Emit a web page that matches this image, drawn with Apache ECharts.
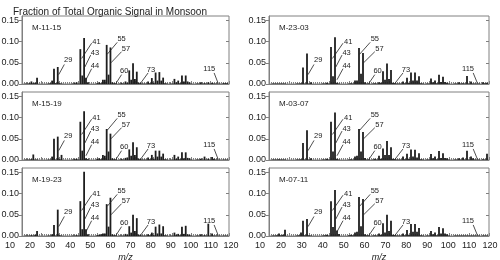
<!DOCTYPE html>
<html><head><meta charset="utf-8">
<script src="https://cdn.jsdelivr.net/npm/echarts@6.0.0/dist/echarts.min.js"></script>
<style>html,body{margin:0;padding:0;background:#fff}#c{width:500px;height:260px}</style>
</head><body><div id="c"></div>
<script>
// m/z positions of the sticks
const mz = [12,13,14,15,16,17,18, 24,25,26,27,28,29,30,31, 37,38,39,40,41,42,43,44,45,
  50,51,52,53,54,55,56,57,58,59,60, 62,63,64,65,66,67,68,69,70,71,72,73,
  74,75,76,77,78,79,80,81,82,83,84,85,86,87, 89,90,91,92,93,94,95,96,97,98,99,100,
  103,104,105,106,107,108,109,110,111,112,113,114,115, 117,118,119];

const m_11_15 = [0.001,0.001,0.002,0.006,0.002,0.003,0.015,
  0.001,0.002,0.008,0.036,0.002,0.040,0.002,0.001,
  0.001,0.002,0.004,0.001,0.082,0.020,0.108,0.015,0.004,
  0.002,0.004,0.002,0.010,0.010,0.092,0.022,0.086,0.004,0.002,0.002,
  0.001,0.002,0.001,0.006,0.003,0.032,0.010,0.049,0.012,0.029,0.003,0.002,
  0.001,0.001,0.001,0.006,0.002,0.014,0.003,0.027,0.008,0.028,0.008,0.015,0.002,0.001,
  0.001,0.001,0.012,0.004,0.008,0.002,0.020,0.006,0.020,0.006,0.004,0.001,
  0.001,0.001,0.004,0.001,0.002,0.001,0.004,0.001,0.003,0.001,0.001,0.001,0.001,
  0.002,0.002,0.002];
const m_15_19 = [0.001,0.001,0.001,0.002,0.013,0.001,0.001,
  0.001,0.001,0.008,0.050,0.001,0.055,0.002,0.012,
  0.001,0.002,0.003,0.001,0.090,0.022,0.115,0.004,0.002,
  0.003,0.004,0.002,0.012,0.010,0.073,0.020,0.062,0.004,0.002,0.002,
  0.001,0.002,0.001,0.005,0.006,0.025,0.010,0.042,0.012,0.030,0.003,0.002,
  0.001,0.001,0.001,0.006,0.002,0.012,0.003,0.022,0.008,0.022,0.008,0.015,0.002,0.001,
  0.001,0.001,0.012,0.003,0.008,0.002,0.018,0.004,0.018,0.005,0.004,0.001,
  0.001,0.001,0.003,0.001,0.008,0.001,0.003,0.001,0.007,0.003,0.001,0.001,0.001,
  0.001,0.001,0.001];
const m_19_23 = [0.001,0.001,0.001,0.002,0.001,0.003,0.012,
  0.001,0.001,0.004,0.026,0.001,0.062,0.002,0.001,
  0.001,0.001,0.002,0.001,0.082,0.016,0.151,0.016,0.004,
  0.002,0.003,0.004,0.006,0.006,0.075,0.022,0.090,0.004,0.002,0.002,
  0.001,0.001,0.001,0.005,0.003,0.023,0.008,0.050,0.012,0.042,0.003,0.002,
  0.001,0.001,0.001,0.004,0.002,0.008,0.002,0.022,0.006,0.027,0.006,0.023,0.002,0.001,
  0.001,0.001,0.008,0.003,0.005,0.002,0.022,0.005,0.024,0.004,0.003,0.001,
  0.001,0.001,0.004,0.001,0.002,0.001,0.029,0.001,0.006,0.001,0.001,0.001,0.001,
  0.001,0.001,0.001];
const m_23_03 = [0.001,0.001,0.001,0.001,0.001,0.001,0.001,
  0.001,0.001,0.002,0.039,0.001,0.072,0.001,0.004,
  0.001,0.001,0.003,0.001,0.087,0.018,0.110,0.003,0.001,
  0.001,0.002,0.001,0.008,0.008,0.085,0.024,0.073,0.004,0.001,0.002,
  0.001,0.002,0.001,0.004,0.003,0.030,0.010,0.048,0.012,0.033,0.003,0.002,
  0.001,0.001,0.001,0.006,0.002,0.015,0.003,0.027,0.008,0.027,0.008,0.018,0.002,0.001,
  0.001,0.001,0.013,0.004,0.008,0.002,0.022,0.005,0.017,0.005,0.003,0.001,
  0.001,0.001,0.004,0.001,0.002,0.001,0.019,0.001,0.006,0.001,0.001,0.001,0.001,
  0.004,0.002,0.003];
const m_03_07 = [0.001,0.001,0.001,0.002,0.001,0.001,0.001,
  0.001,0.001,0.002,0.040,0.001,0.070,0.001,0.004,
  0.001,0.001,0.003,0.001,0.090,0.020,0.112,0.003,0.001,
  0.001,0.002,0.001,0.008,0.010,0.073,0.020,0.066,0.005,0.001,0.002,
  0.001,0.003,0.001,0.010,0.003,0.027,0.012,0.045,0.012,0.030,0.003,0.002,
  0.001,0.001,0.001,0.008,0.002,0.015,0.003,0.025,0.008,0.024,0.006,0.016,0.002,0.001,
  0.001,0.001,0.014,0.004,0.008,0.002,0.021,0.005,0.016,0.005,0.004,0.001,
  0.001,0.001,0.004,0.001,0.006,0.001,0.022,0.001,0.008,0.004,0.001,0.001,0.001,
  0.002,0.001,0.015];
const m_07_11 = [0.001,0.001,0.002,0.006,0.002,0.003,0.015,
  0.001,0.002,0.008,0.036,0.002,0.040,0.002,0.001,
  0.001,0.002,0.003,0.001,0.082,0.021,0.108,0.013,0.005,
  0.002,0.003,0.002,0.008,0.010,0.092,0.023,0.087,0.004,0.002,0.002,
  0.001,0.002,0.001,0.006,0.003,0.030,0.008,0.050,0.012,0.036,0.003,0.002,
  0.001,0.001,0.001,0.006,0.002,0.014,0.003,0.028,0.010,0.028,0.010,0.019,0.002,0.001,
  0.001,0.001,0.012,0.004,0.008,0.002,0.021,0.006,0.018,0.006,0.004,0.001,
  0.001,0.001,0.001,0.001,0.001,0.001,0.001,0.001,0.001,0.001,0.001,0.001,0.001,
  0.001,0.001,0.001];

const panelNames = ['M-11-15','M-15-19','M-19-23','M-23-03','M-03-07','M-07-11'];
const panelValues = [m_11_15, m_15_19, m_19_23, m_23_03, m_03_07, m_07_11];
const yTicks = [0, 0.05, 0.10, 0.15];
const peakLabels = ['29','41','43','44','55','57','60','73','115'];
const titleText = 'Fraction of Total Organic Signal in Monsoon';

// ---- layout / styling (not data) ----
const FONT = 'Liberation Sans, Arial, Helvetica, sans-serif';
const cols = [{left:22, width:207, labLeft:10, labWidth:221},
              {left:269, width:220, labLeft:260, labWidth:230}];
const rowBottoms = [84, 160, 236];
const H = 68, YMAX = 0.16;
const BARW = 1.8;
// leader geometry per peak label: [x1,y1,x2,y2,textX,textY] in axis units
const annGeom = [[29.5,0.022,32.5,0.046,34.6,0.056],[41.7,0.060,47,0.096,49.6,0.100],
  [43.4,0.040,46.5,0.068,48.8,0.074],[44,0.010,47,0.036,48.8,0.042],
  [55.3,0.070,60.6,0.098,62.9,0.106],[57.3,0.050,62.9,0.076,65.2,0.082],
  [60,0.002,62.9,0.022,64.3,0.030],[72.7,0.0,77,0.026,78.5,0.034],
  [114.2,0.002,112.1,0.026,109.5,0.036]];
const AX = '#808080', TXT = '#222';

const grid = [], xAxis = [], yAxis = [], series = [];
const title = [{text:titleText, left:8, top:2, textStyle:{fontSize:10, fontWeight:'normal', color:TXT, fontFamily:FONT}}];

panelNames.forEach((name, i) => {
  const ci = Math.floor(i/3), r = i % 3, c = cols[ci];
  const top = rowBottoms[r] - H;
  grid.push({left:c.left, top:top, width:c.width, height:H, show:true, borderColor:AX, borderWidth:1,
    backgroundColor:'transparent', containLabel:false, outerBoundsMode:'none'});
  xAxis.push({type:'value', gridIndex:i, min:10, max:120, interval:10,
    axisLine:{show:true, lineStyle:{color:AX}},
    axisTick:{show:true, inside:true, length:3, lineStyle:{color:AX}},
    minorTick:{show:true, splitNumber:10, length:2, lineStyle:{color:AX}},
    axisLabel:{show:false}, splitLine:{show:false},
    name: r === 2 ? 'm/z' : '', nameLocation:'middle', nameGap:17,
    nameTextStyle:{fontStyle:'italic', fontSize:9, color:TXT, fontFamily:FONT}});
  yAxis.push({type:'value', gridIndex:i, min:0, max:YMAX, position:'left',
    axisLine:{show:true, lineStyle:{color:AX}},
    axisTick:{show:true, length:3, customValues:yTicks, lineStyle:{color:AX}},
    axisLabel:{fontSize:9, margin:3, color:TXT, fontFamily:FONT, customValues:yTicks, formatter:v => v.toFixed(2)},
    splitLine:{show:false}});
  yAxis.push({type:'value', gridIndex:i, min:0, max:YMAX, position:'right',
    axisLine:{show:false},
    axisTick:{show:true, inside:true, length:3, customValues:yTicks, lineStyle:{color:AX}},
    axisLabel:{show:false}, splitLine:{show:false}});
  // sticks
  series.push({type:'custom', xAxisIndex:i, yAxisIndex:2*i, silent:true, animation:false,
    data: mz.map((m,k) => [m, panelValues[i][k]]),
    renderItem:(params, api) => {
      const p0 = api.coord([api.value(0), 0]);
      const p1 = api.coord([api.value(0), api.value(1)]);
      return {type:'rect', shape:{x:p0[0]-BARW/2, y:p1[1], width:BARW, height:p0[1]-p1[1]},
        style:{fill:'#1e1e1e'}};
    }});
  // peak labels with leader lines
  series.push({type:'custom', xAxisIndex:i, yAxisIndex:2*i, silent:true, animation:false, clip:false,
    data: annGeom.map((g,k) => g.concat([k])),
    renderItem:(params, api) => {
      const p1 = api.coord([api.value(0), api.value(1)]);
      const p2 = api.coord([api.value(2), api.value(3)]);
      const pt = api.coord([api.value(4), api.value(5)]);
      return {type:'group', children:[
        {type:'line', shape:{x1:p1[0], y1:p1[1], x2:p2[0], y2:p2[1]}, style:{stroke:'#222', lineWidth:0.8}},
        {type:'text', x:pt[0], y:pt[1], style:{text:peakLabels[api.value(6)], fontSize:7.5, fill:TXT, align:'center', verticalAlign:'middle', fontFamily:FONT}}
      ]};
    }});
  title.push({text:name, left:c.left+5, top:top+3, textStyle:{fontSize:8, fontWeight:'normal', color:TXT, fontFamily:FONT}});
});

// tick-label axes under the bottom row
cols.forEach((c, ci) => {
  const gi = 6 + ci;
  grid.push({left:c.labLeft, top:rowBottoms[2]-H, width:c.labWidth, height:H, show:false, containLabel:false, outerBoundsMode:'none'});
  xAxis.push({type:'value', gridIndex:gi, min:10, max:120, interval:10,
    axisLine:{show:false}, axisTick:{show:false}, splitLine:{show:false},
    axisLabel:{fontSize:9, margin:5, color:TXT, fontFamily:FONT}});
  yAxis.push({type:'value', gridIndex:gi, show:false, min:0, max:1});
});

const chart = echarts.init(document.getElementById('c'), null, {renderer:'canvas'});
chart.setOption({animation:false, backgroundColor:'#fff', title, grid, xAxis, yAxis, series});
</script></body></html>
